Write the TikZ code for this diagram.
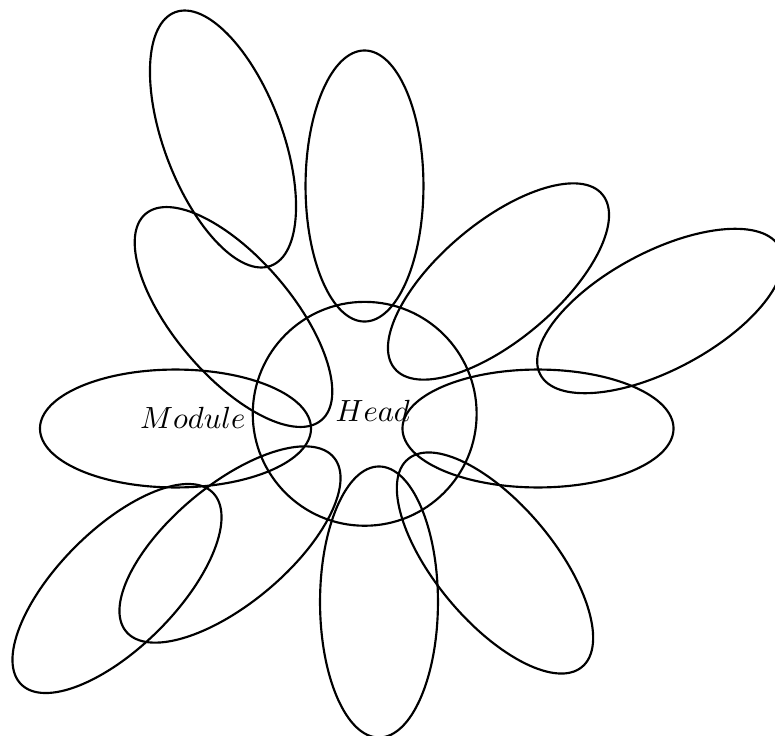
\documentclass[tikz,border=0pt]{standalone}
\usetikzlibrary{shapes.geometric}
\tikzset{
  petal/.style={draw, ellipse, line width=0.7pt, inner sep=0pt, outer sep=0pt,
    minimum width=88.5pt, minimum height=38.5pt},
  headcircle/.style={draw, circle, line width=0.7pt, inner sep=0pt, minimum size=73.1pt},
  lbl/.style={anchor=base west, inner sep=0pt}
}
\begin{document}
\begin{tikzpicture}[x=0.3265pt, y=0.3265pt]
\useasboundingbox (0,0) rectangle (775,735);
\node[petal] (e1) at (175.5,306.5) {};
\node[petal] (e2) at (538,306.5) {};
\node[petal, rotate=90] (e3) at (364.5,549) {};
\node[petal, rotate=90] (e4) at (379,133) {};
\node[petal, rotate=130.5] (e5) at (233.5,418) {};
\node[petal, rotate=110.7] (e6) at (223,596) {};
\node[petal, rotate=40] (e7) at (498.5,453.5) {};
\node[petal, rotate=28] (e8) at (660,424) {};
\node[petal, rotate=-50] (e9) at (495,172) {};
\node[petal, rotate=40] (e10) at (230,190.5) {};
\node[petal, rotate=45] (e11) at (117,146.5) {};
\node[headcircle] (head) at (364.7,321.2) {};
\node[lbl] (headtxt) at (335,314) {$Head$};
\node[lbl] (modtxt) at (139.5,307) {$Module$};
\end{tikzpicture}
\end{document}
